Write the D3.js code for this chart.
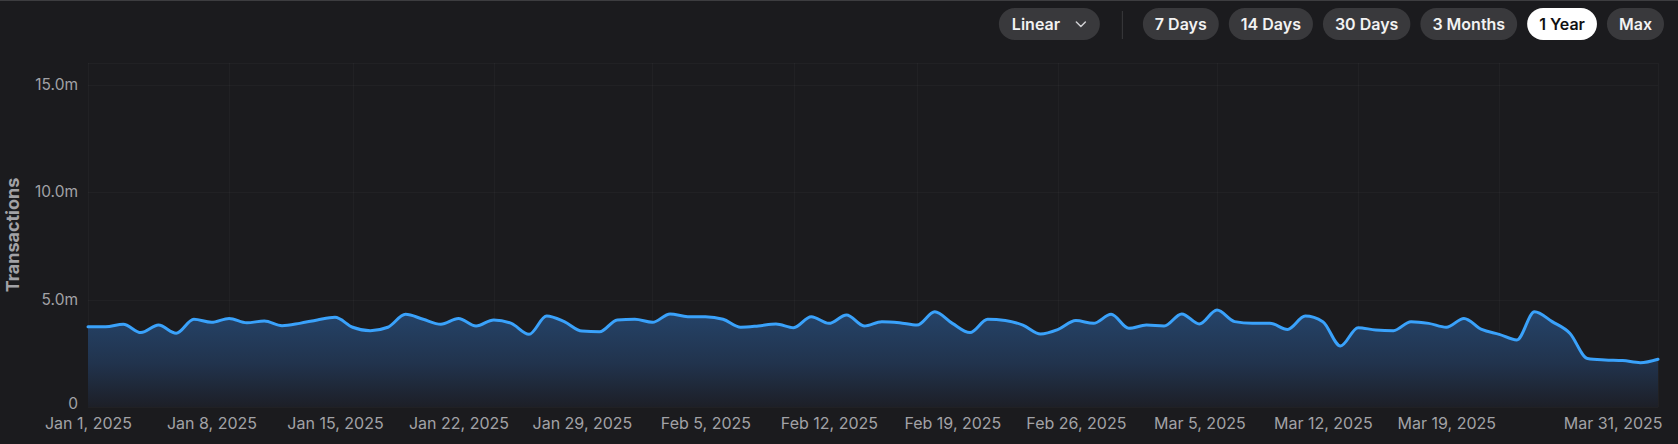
<!DOCTYPE html>
<html>
<head>
<meta charset="utf-8">
<script src="https://cdn.jsdelivr.net/npm/d3@7"></script>
<style>
  html, body { margin: 0; padding: 0; background: #1b1b1e; }
  svg { display: block; }
  text { font-family: Inter, "Noto Sans", sans-serif; }
</style>
</head>
<body>
<svg id="chart" width="1678" height="444"></svg>
<script>
// ---------- data ----------
const startDate = "2025-01-01";
const endDate = "2025-03-31";
// daily transactions, millions (Jan 1 .. Mar 31, 2025)
const transactions = [
  3.73, 3.73, 3.85, 3.46, 3.81, 3.43, 4.08, 3.94, 4.12, 3.92,
  4.00, 3.78, 3.89, 4.05, 4.17, 3.71, 3.55, 3.71, 4.31, 4.08,
  3.85, 4.12, 3.77, 4.05, 3.89, 3.38, 4.23, 3.97, 3.53, 3.50,
  4.05, 4.08, 3.94, 4.33, 4.20, 4.20, 4.08, 3.71, 3.77, 3.86,
  3.69, 4.20, 3.89, 4.28, 3.77, 3.97, 3.92, 3.81, 4.43, 3.89,
  3.46, 4.08, 4.02, 3.81, 3.40, 3.61, 4.02, 3.89, 4.31, 3.66,
  3.81, 3.77, 4.33, 3.86, 4.51, 3.97, 3.89, 3.89, 3.61, 4.23,
  3.97, 2.84, 3.69, 3.58, 3.55, 3.97, 3.89, 3.71, 4.12, 3.61,
  3.38, 3.12, 4.43, 3.97, 3.43, 2.26, 2.19, 2.16, 2.06, 2.22
];
const xTickLabels = [
  "2025-01-01", "2025-01-08", "2025-01-15", "2025-01-22", "2025-01-29",
  "2025-02-05", "2025-02-12", "2025-02-19", "2025-02-26", "2025-03-05",
  "2025-03-12", "2025-03-19", "2025-03-31"
];
const xGridDates = [
  "2025-01-09", "2025-01-16", "2025-01-24", "2025-02-02", "2025-02-10",
  "2025-02-17", "2025-02-25", "2025-03-06", "2025-03-14", "2025-03-22"
];
const yTicks = [0, 5, 10, 15];
const yMax = 16;
const yTitle = "Transactions";
const scaleOption = "Linear";
const rangeOptions = ["7 Days", "14 Days", "30 Days", "3 Months", "1 Year", "Max"];
const activeRange = "1 Year";

// ---------- layout ----------
const svg = d3.select("#chart");
const W = 1678, H = 444;
const plot = { left: 88, right: 1658, top: 63, bottom: 407 };
const parse = d3.utcParse("%Y-%m-%d");
const days = d3.utcDay.range(parse(startDate), d3.utcDay.offset(parse(endDate), 1));
const data = days.map((d, i) => ({ date: d, value: transactions[i] }));

const x = d3.scaleUtc().domain([parse(startDate), parse(endDate)]).range([plot.left, plot.right]);
const y = d3.scaleLinear().domain([0, yMax]).range([plot.bottom, plot.top]);

// background
svg.append("rect").attr("width", W).attr("height", H).attr("fill", "#1b1b1e");
svg.append("line").attr("x1", 0).attr("x2", W).attr("y1", 0.5).attr("y2", 0.5)
  .attr("stroke", "#3d3d40").attr("stroke-width", 1);

// grid
const grid = svg.append("g").attr("stroke", "#ffffff").attr("stroke-opacity", 0.028).attr("stroke-width", 1);
[...yTicks, yMax].forEach(v => {
  grid.append("line").attr("x1", plot.left).attr("x2", plot.right)
    .attr("y1", Math.round(y(v)) + 0.5).attr("y2", Math.round(y(v)) + 0.5);
});
[parse(startDate), ...xGridDates.map(parse), parse(endDate)].forEach(d => {
  grid.append("line").attr("y1", plot.top).attr("y2", plot.bottom)
    .attr("x1", Math.round(x(d)) + 0.5).attr("x2", Math.round(x(d)) + 0.5);
});

// gradient
const defs = svg.append("defs");
const grad = defs.append("linearGradient").attr("id", "areaGrad")
  .attr("gradientUnits", "userSpaceOnUse")
  .attr("x1", 0).attr("x2", 0).attr("y1", y(4.5)).attr("y2", y(0));
grad.append("stop").attr("offset", 0).attr("stop-color", "#25446a");
grad.append("stop").attr("offset", 0.55).attr("stop-color", "#21334d");
grad.append("stop").attr("offset", 1).attr("stop-color", "#1d1f27");

const curve = d3.curveMonotoneX;
const area = d3.area().x(d => x(d.date)).y0(y(0)).y1(d => y(d.value)).curve(curve);
const line = d3.line().x(d => x(d.date)).y(d => y(d.value)).curve(curve);

svg.append("path").datum(data).attr("d", area).attr("fill", "url(#areaGrad)");
svg.append("path").datum(data).attr("d", line).attr("fill", "none")
  .attr("stroke", "#3aa2fb").attr("stroke-width", 3)
  .attr("stroke-linejoin", "round").attr("stroke-linecap", "round");

// y axis
const yAxis = d3.axisLeft(y).tickValues(yTicks).tickSize(0).tickPadding(10)
  .tickFormat(v => v === 0 ? "0" : v.toFixed(1) + "m");
const gy = svg.append("g").attr("transform", `translate(${plot.left},0)`).call(yAxis);
gy.select(".domain").remove();
gy.selectAll("text").attr("fill", "#a2a2a6").style("font-size", "15.5px")
  .style("font-family", "Inter, sans-serif");
// lift the zero label slightly so it clears the first date label
gy.selectAll(".tick").filter(d => d === 0).select("text").attr("dy", "0.1em");

// x axis
const fmt = d3.utcFormat("%b %-d, %Y");
const xAxis = d3.axisBottom(x).tickValues(xTickLabels.map(parse)).tickSize(0).tickPadding(11)
  .tickFormat(fmt);
const gx = svg.append("g").attr("transform", `translate(0,${plot.bottom})`).call(xAxis);
gx.select(".domain").remove();
gx.selectAll("text").attr("fill", "#a2a2a6").style("font-size", "16px")
  .style("font-family", "Inter, sans-serif");
// keep last label inside the chart
gx.selectAll(".tick").filter((d, i, n) => i === n.length - 1).select("text")
  .attr("text-anchor", "end").attr("x", W - 16 - plot.right);

// y title
svg.append("text")
  .attr("transform", `translate(19,${(plot.top + plot.bottom) / 2}) rotate(-90)`)
  .attr("text-anchor", "middle")
  .attr("fill", "#a2a2a6").style("font-size", "18px").style("font-weight", 700)
  .text(yTitle);

// ---------- controls ----------
const ctrl = svg.append("g");
const pillH = 32, pillY = 8, pad = 12, gap = 10;
const fs = "16px";
const measure = svg.append("text").style("font-size", fs).style("font-weight", 600);
const widths = rangeOptions.map(t => { measure.text(t); return measure.node().getComputedTextLength() + 2 * pad; });
measure.remove();

let xr = 1664;
const pillX = [];
for (let i = rangeOptions.length - 1; i >= 0; i--) {
  xr -= widths[i];
  pillX[i] = xr;
  xr -= gap;
}
rangeOptions.forEach((t, i) => {
  const active = t === activeRange;
  ctrl.append("rect").attr("x", pillX[i]).attr("y", pillY).attr("width", widths[i]).attr("height", pillH)
    .attr("rx", pillH / 2).attr("fill", active ? "#ffffff" : "#39393c");
  ctrl.append("text").attr("x", pillX[i] + widths[i] / 2).attr("y", pillY + pillH / 2)
    .attr("dy", "0.36em").attr("text-anchor", "middle")
    .attr("fill", active ? "#111113" : "#f2f2f2")
    .style("font-size", fs).style("font-weight", 600).text(t);
});
// separator
const sepX = pillX[0] - 21;
ctrl.append("line").attr("x1", sepX + 0.5).attr("x2", sepX + 0.5).attr("y1", 11).attr("y2", 39)
  .attr("stroke", "#3a3a3d").attr("stroke-width", 1);
// scale dropdown
const linW = 101, linX = sepX - 22 - linW;
ctrl.append("rect").attr("x", linX).attr("y", pillY).attr("width", linW).attr("height", pillH)
  .attr("rx", pillH / 2).attr("fill", "#39393c");
ctrl.append("text").attr("x", linX + 13).attr("y", pillY + pillH / 2).attr("dy", "0.36em")
  .attr("fill", "#f2f2f2").style("font-size", fs).style("font-weight", 600).text(scaleOption);
const cx = linX + 82, cy = pillY + pillH / 2;
ctrl.append("path").attr("d", `M${cx - 4.5},${cy - 2} L${cx},${cy + 2.5} L${cx + 4.5},${cy - 2}`)
  .attr("fill", "none").attr("stroke", "#cfcfd2").attr("stroke-width", 1.5)
  .attr("stroke-linecap", "round").attr("stroke-linejoin", "round");
</script>
</body>
</html>
